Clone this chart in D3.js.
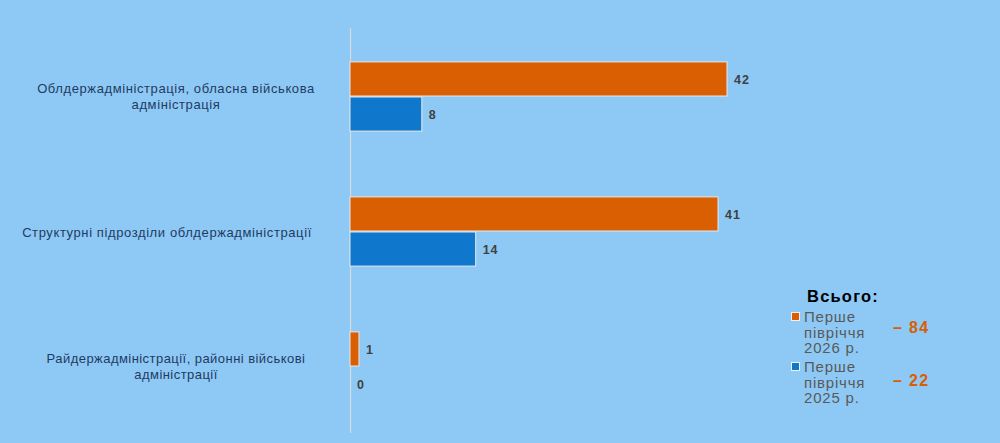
<!DOCTYPE html>
<html><head><meta charset="utf-8">
<script src="https://cdn.jsdelivr.net/npm/d3@7"></script>
<style>body{margin:0;background:#8ec9f5;}svg{display:block;font-family:"Liberation Sans",Arial,sans-serif;}</style>
</head><body>
<svg id="c" width="1000" height="443"></svg>
<script>
const categories = [
  ["Облдержадміністрація, обласна військова", "адміністрація"],
  ["Структурні підрозділи облдержадміністрації"],
  ["Райдержадміністрації, районні військові", "адміністрації"]
];
const seriesNames = ["Перше півріччя 2026 р.", "Перше півріччя 2025 р."];
const values2026 = [42, 41, 1];
const values2025 = [8, 14, 0];
const totals = [84, 22];
const legendLines = [["Перше", "півріччя", "2026 р."], ["Перше", "півріччя", "2025 р."]];
const colors = ["#d95f02", "#0f77cc"];

const svg = d3.select("#c");
svg.append("rect").attr("width",1000).attr("height",443).attr("fill","#8ec9f5");

const x = d3.scaleLinear().domain([0, 42]).range([350, 727]);
const y0 = d3.scaleBand().domain(d3.range(categories.length)).range([29.5, 434.5]).paddingInner(0.48).paddingOuter(0.24);
const y1 = d3.scaleBand().domain([0,1]).range([0, y0.bandwidth()]);

svg.append("line").attr("x1",350.5).attr("x2",350.5).attr("y1",28).attr("y2",433)
  .attr("stroke","#d9d9d9").attr("stroke-width",1.2);

const series = [values2026, values2025];
categories.forEach((cat, i) => {
  series.forEach((vals, s) => {
    const v = vals[i];
    const yy = y0(i) + y1(s);
    if (v > 0) {
      svg.append("rect").attr("x", x(0)).attr("y", yy).attr("width", x(v)-x(0)).attr("height", y1.bandwidth()-1)
        .attr("fill", colors[s]).attr("stroke","#e8e8e8").attr("stroke-width",1);
    }
    svg.append("text").attr("x", x(v) + 7).attr("y", yy + y1.bandwidth()/2 + 4.5)
      .attr("font-size", 12.5).attr("font-weight","bold").attr("letter-spacing", 1).attr("fill","#404040").text(v);
  });
  const cy = y0(i) + y0.bandwidth()/2;
  const n = cat.length;
  const cx = n > 1 ? 176 : 167;
  cat.forEach((line, k) => {
    svg.append("text").attr("x", cx).attr("y", cy + 5 + (k - (n-1)/2)*16.5 - (n>1?1:0))
      .attr("text-anchor","middle").attr("font-size", 13).attr("letter-spacing", n>1 && i===2 ? 0.45 : 0.6).attr("fill","#1f3b63").text(line);
  });
});

// legend
svg.append("text").attr("x", 843).attr("y", 302).attr("text-anchor","middle")
  .attr("font-size", 16.5).attr("font-weight","bold").attr("letter-spacing", 1.2).attr("fill","#000").text("Всього:");
legendLines.forEach((lines, s) => {
  const top = 317 + s*50;
  svg.append("rect").attr("x", 791.5).attr("y", top-4.5).attr("width", 8).attr("height", 8)
    .attr("fill", colors[s]).attr("stroke","#f0f0f0").attr("stroke-width",1);
  lines.forEach((l, k) => {
    svg.append("text").attr("x", 804).attr("y", top + 5 + k*15.5).attr("font-size", 15)
      .attr("letter-spacing", 0.8).attr("fill","#595959").text(l);
  });
  svg.append("text").attr("x", 893).attr("y", top + 16 + s*3).attr("font-size", 16).attr("font-weight","bold")
    .attr("letter-spacing", 1.3).attr("fill","#d95f02").text("– " + totals[s]);
});
</script>
</body></html>
